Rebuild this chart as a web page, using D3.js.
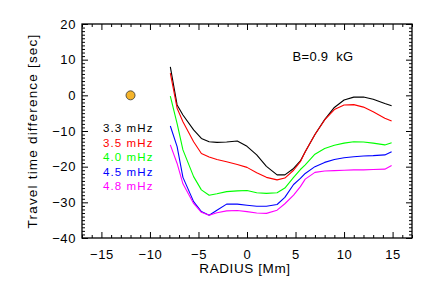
<!DOCTYPE html>
<html>
<head>
<meta charset="utf-8">
<script src="https://cdn.jsdelivr.net/npm/d3@7"></script>
<style>
  html, body { margin: 0; padding: 0; background: #fff; }
  svg { display: block; }
  text { font-family: "Liberation Sans", Arial, sans-serif; }
</style>
</head>
<body>
<svg id="chart" width="436" height="290"></svg>
<script>
// ---- data ----
const radius = [-7.9, -7.2, -6.6, -5.5, -4.7, -3.9, -3.1, -2.1, -1.0, 0.0, 1.0, 2.0, 3.1, 3.9, 4.8, 5.5, 6.0, 7.0, 8.0, 9.0, 10.0, 11.0, 12.0, 13.0, 14.2, 14.9];
const f33 = [8.0, -2.7, -5.5, -9.7, -12.1, -13.0, -13.2, -13.1, -12.8, -14.3, -16.7, -19.9, -22.3, -22.3, -20.5, -18.4, -15.8, -11.0, -6.8, -3.4, -1.3, -0.5, -0.45, -1.1, -2.3, -2.9];
const f35 = [6.2, -3.6, -7.4, -13.0, -16.3, -17.3, -18.0, -18.6, -19.4, -20.2, -21.7, -23.0, -23.7, -23.2, -21.0, -18.6, -15.8, -11.0, -6.9, -4.0, -2.7, -2.6, -3.3, -4.6, -6.4, -7.2];
const f40 = [-0.2, -7.9, -15.3, -22.8, -26.5, -28.0, -27.6, -27.0, -26.8, -26.7, -27.3, -27.5, -27.3, -26.0, -23.0, -20.8, -19.5, -16.5, -14.9, -14.0, -13.4, -13.0, -13.1, -13.4, -13.9, -13.3];
const f45 = [-8.6, -14.4, -23.0, -29.8, -32.6, -33.6, -32.2, -30.5, -30.5, -30.8, -31.1, -31.1, -30.6, -28.6, -25.0, -23.3, -21.9, -20.0, -18.8, -18.0, -17.5, -17.2, -17.0, -16.9, -16.7, -15.8];
const f48 = [-13.9, -19.1, -24.8, -30.3, -32.8, -33.6, -32.9, -32.4, -32.3, -32.6, -33.0, -33.1, -32.2, -30.4, -28.0, -25.6, -23.5, -21.6, -21.2, -21.1, -21.0, -20.9, -20.9, -20.8, -20.7, -19.7];
const seriesNames = ["3.3 mHz", "3.5 mHz", "4.0 mHz", "4.5 mHz", "4.8 mHz"];
const seriesValues = [f33, f35, f40, f45, f48];
const seriesColors = ["#000000", "#ff0000", "#00ff00", "#0000ff", "#ff00ff"];
const xTicks = [-15, -10, -5, 0, 5, 10, 15];
const yTicks = [-40, -30, -20, -10, 0, 10, 20];
const marker = { r: 0, x: -12, t: 0 }; // radius position and travel time of the orange marker
const annotation = "B=0.9  kG";
const xLabel = "RADIUS [Mm]";
const yLabel = "Travel time difference [sec]";

// ---- layout ----
const svg = d3.select("#chart");
const L = 82, R = 412, T = 24, B = 238;
const x = d3.scaleLinear().domain([-17, 17]).range([L, R]);
const y = d3.scaleLinear().domain([-40, 20]).range([B, T]);
const fmt = d => (d < 0 ? "\u2212" + Math.abs(d) : String(d));

// frame
svg.append("rect").attr("x", L).attr("y", T).attr("width", R - L).attr("height", B - T)
  .attr("fill", "none").attr("stroke", "#000").attr("stroke-width", 1.3);

const xMinor = d3.range(-17, 18, 1).filter(v => v % 5 !== 0);
const yMinor = d3.range(-40, 21, 1).filter(v => v % 10 !== 0);

function ticks(axisGen, sel, major, minor) {
  // major ticks
  const gM = sel.append("g").call(axisGen.tickValues(major).tickSize(6).tickFormat(""));
  gM.select(".domain").remove();
  gM.selectAll("line").attr("stroke", "#000").attr("stroke-width", 1);
  const gm = sel.append("g").call(axisGen.tickValues(minor).tickSize(3).tickFormat(""));
  gm.select(".domain").remove();
  gm.selectAll("line").attr("stroke", "#000").attr("stroke-width", 1);
}
// bottom ticks (inward)
ticks(d3.axisTop(x), svg.append("g").attr("transform", `translate(0,${B})`), xTicks, xMinor);
ticks(d3.axisBottom(x), svg.append("g").attr("transform", `translate(0,${T})`), xTicks, xMinor);
ticks(d3.axisRight(y), svg.append("g").attr("transform", `translate(${L},0)`), yTicks, yMinor);
ticks(d3.axisLeft(y), svg.append("g").attr("transform", `translate(${R},0)`), yTicks, yMinor);

// tick labels via axes
const xl = svg.append("g").attr("transform", `translate(0,${B})`)
  .call(d3.axisBottom(x).tickValues(xTicks).tickSize(0).tickPadding(12).tickFormat(fmt));
xl.select(".domain").remove();
xl.selectAll("text").attr("font-size", 13).attr("fill", "#000").attr("font-family", "Liberation Sans, Arial, sans-serif").attr("letter-spacing", 0.6);

const yl = svg.append("g").attr("transform", `translate(${L},0)`)
  .call(d3.axisLeft(y).tickValues(yTicks).tickSize(0).tickPadding(6).tickFormat(fmt));
yl.select(".domain").remove();
yl.selectAll("text").attr("font-size", 13).attr("fill", "#000").attr("font-family", "Liberation Sans, Arial, sans-serif").attr("letter-spacing", 0.6);

// axis titles
svg.append("text").attr("x", 245).attr("y", 273).attr("text-anchor", "middle")
  .attr("font-size", 13.5).attr("letter-spacing", 0.6).text(xLabel);
svg.append("text").attr("transform", `translate(37,${(T + B) / 2}) rotate(-90)`)
  .attr("text-anchor", "middle").attr("font-size", 13.5).attr("letter-spacing", 1.2).text(yLabel);

// lines
const line = d3.line().x((d, i) => x(radius[i])).y(d => y(d)).curve(d3.curveLinear);
seriesValues.forEach((vals, k) => {
  svg.append("path").datum(vals).attr("d", line)
    .attr("fill", "none").attr("stroke", seriesColors[k]).attr("stroke-width", 1.1)
    .attr("stroke-linejoin", "round");
});

// legend
seriesNames.forEach((n, k) => {
  svg.append("text").attr("x", 103).attr("y", 132 + k * 14.5)
    .attr("font-size", 11.5).attr("letter-spacing", 1.1).attr("fill", seriesColors[k]).text(n);
});

// annotation
svg.append("text").attr("x", 323).attr("y", 61).attr("text-anchor", "middle")
  .attr("font-size", 13).attr("letter-spacing", 0.3).attr("xml:space", "preserve").style("white-space", "pre").text(annotation);

// marker
svg.append("circle").attr("cx", x(marker.x)).attr("cy", y(marker.t)).attr("r", 4.5)
  .attr("fill", "#f5b42a").attr("stroke", "#333").attr("stroke-width", 0.8);
</script>
</body>
</html>
